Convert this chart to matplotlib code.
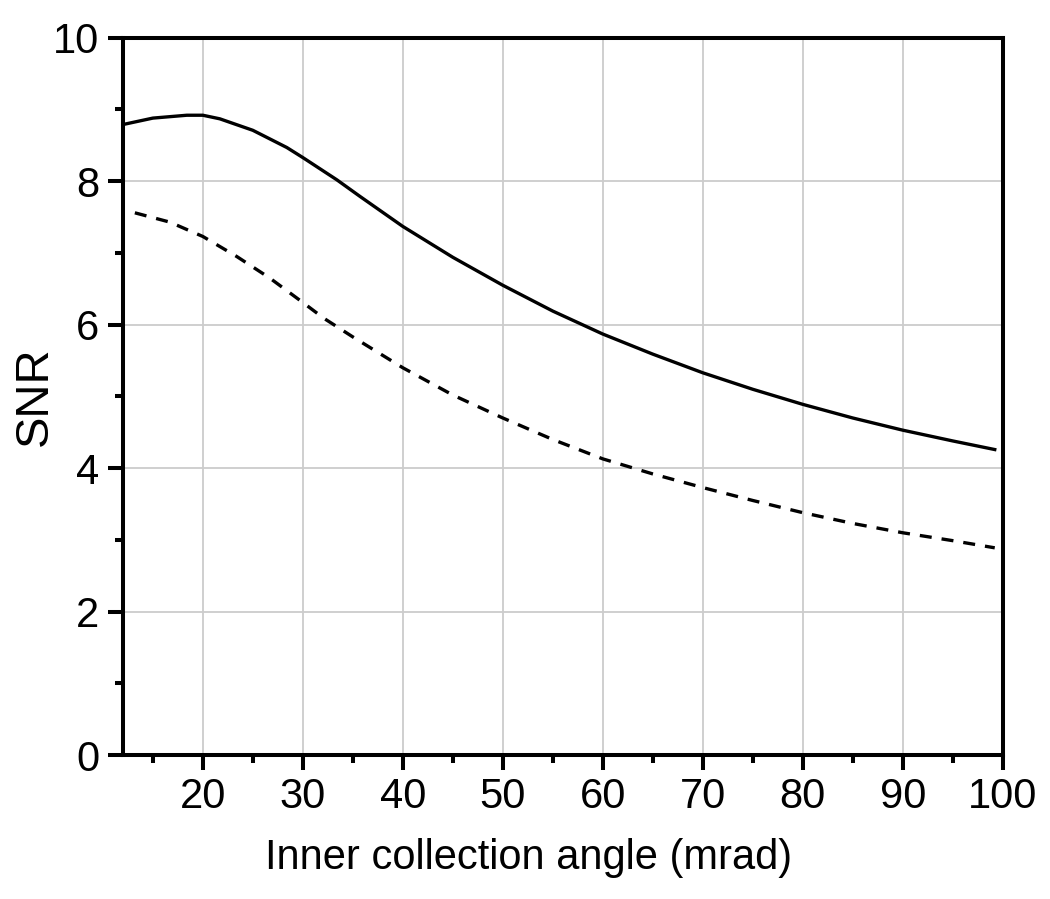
import matplotlib.pyplot as plt
from matplotlib.ticker import MultipleLocator

plt.rcParams['font.family'] = ['Liberation Sans', 'DejaVu Sans']

# solid curve
x_solid = [12, 15, 18.4, 20, 21.7, 25, 28.4, 30, 33.4, 35.7, 40, 45, 50, 55, 60, 65, 70, 75, 80,
           85, 90, 95, 99.2]
y_solid = [8.79, 8.88, 8.92, 8.92, 8.87, 8.71, 8.47, 8.33, 8.02, 7.79, 7.37, 6.94, 6.55, 6.19,
           5.87, 5.59, 5.33, 5.10, 4.89, 4.70, 4.53, 4.38, 4.26]

# dashed curve
x_dash = [13.2, 16.7, 20, 23.4, 26.7, 30, 32.1, 35, 40, 45, 50, 55, 60, 65, 70, 75, 80, 85, 90,
          95, 99.2]
y_dash = [7.56, 7.43, 7.23, 6.95, 6.65, 6.31, 6.09, 5.83, 5.40, 5.02, 4.70, 4.40, 4.13, 3.92,
          3.73, 3.55, 3.38, 3.23, 3.10, 2.99, 2.89]

fig = plt.figure(figsize=(10.5, 8.99), dpi=100)
ax = fig.add_axes([0.117, 0.160, 0.838, 0.798])

ax.plot(x_solid, y_solid, color='black', lw=2.4)
ax.plot(x_dash, y_dash, color='black', lw=2.4, linestyle=(0, (3.6, 3.0)))

ax.set_xlim(12, 100)
ax.set_ylim(0, 10)
ax.xaxis.set_major_locator(MultipleLocator(10))
ax.xaxis.set_minor_locator(MultipleLocator(5))
ax.yaxis.set_major_locator(MultipleLocator(2))
ax.yaxis.set_minor_locator(MultipleLocator(1))

ax.grid(True, which='major', color='#cccccc', lw=1.3)
ax.set_axisbelow(True)

for s in ax.spines.values():
    s.set_linewidth(2.9)

ax.tick_params(which='major', direction='out', length=10.8, width=2.9, labelsize=30, pad=5)
ax.tick_params(which='minor', direction='out', length=6, width=2.9)
ax.tick_params(axis='y', which='major', pad=6)

ax.set_xlabel('Inner collection angle (mrad)', fontsize=30)
ax.set_ylabel('SNR', fontsize=34)
ax.xaxis.set_label_coords(0.461, -0.116)
ax.yaxis.set_label_coords(-0.075, 0.5)

fig.savefig('out.png', dpi=100)
